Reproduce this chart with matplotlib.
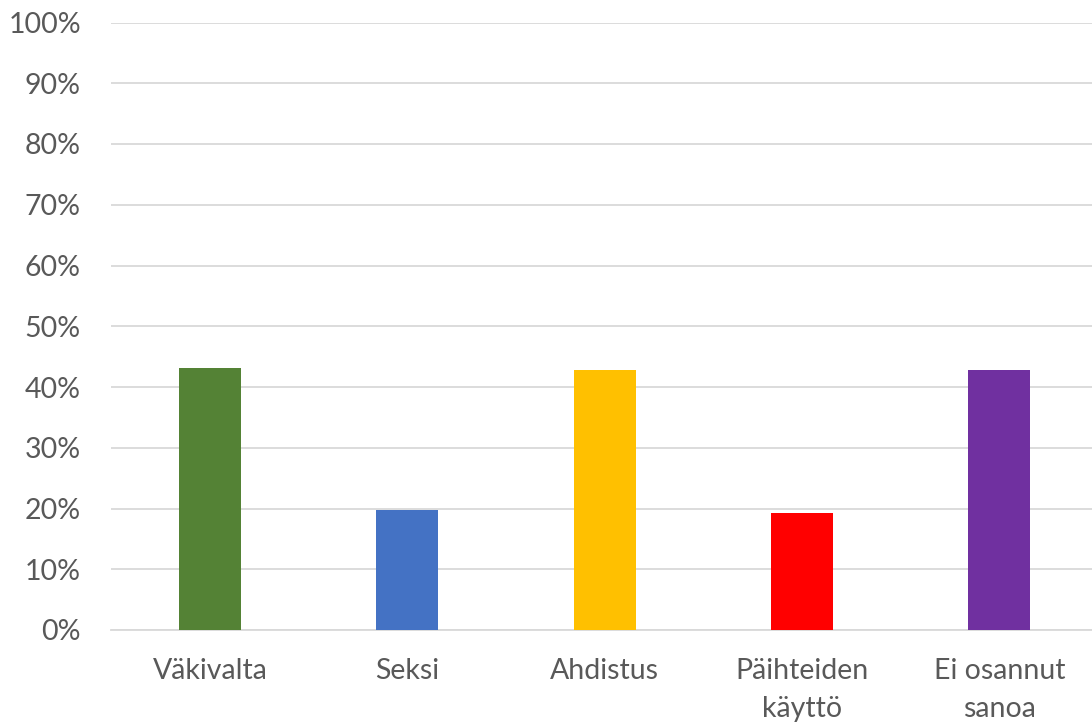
import matplotlib
matplotlib.use("Agg")
import matplotlib.pyplot as plt
from matplotlib.ticker import FuncFormatter, MultipleLocator

categories = ["Väkivalta", "Seksi", "Ahdistus", "Päihteiden\nkäyttö", "Ei osannut\nsanoa"]
values = [43.1, 19.7, 42.8, 19.3, 42.8]
colors = ["#548235", "#4472C4", "#FFC000", "#FF0000", "#7030A0"]

plt.rcParams['font.family'] = ['Lato', 'DejaVu Sans']

fig = plt.figure(figsize=(10.92, 7.26), dpi=100)
ax = fig.add_axes([111.4 / 1092, 96 / 726, 986.5 / 1092, 607.5 / 726])

x = list(range(len(categories)))
ax.bar(x, values, width=0.314, color=colors, zorder=3)

ax.set_xlim(-0.5, len(categories) - 0.5)
ax.set_ylim(0, 100)
ax.yaxis.set_major_locator(MultipleLocator(10))
ax.yaxis.set_major_formatter(FuncFormatter(lambda v, p: f"{int(round(v))}%"))
ax.grid(axis='y', color="#d9d9d9", linewidth=1.3, zorder=0)
ax.set_axisbelow(True)
for s in ["top", "right", "left"]:
    ax.spines[s].set_visible(False)
ax.spines["bottom"].set_color("#d9d9d9")
ax.spines["bottom"].set_linewidth(1.3)

ax.set_xticks(x)
ax.set_xticklabels(categories, fontsize=20.5, color="#595959", linespacing=1.6)
ax.tick_params(axis='x', length=0, pad=20)
ax.tick_params(axis='y', length=0, pad=22, labelsize=20.5, labelcolor="#595959")

fig.savefig("out.png", dpi=100)
